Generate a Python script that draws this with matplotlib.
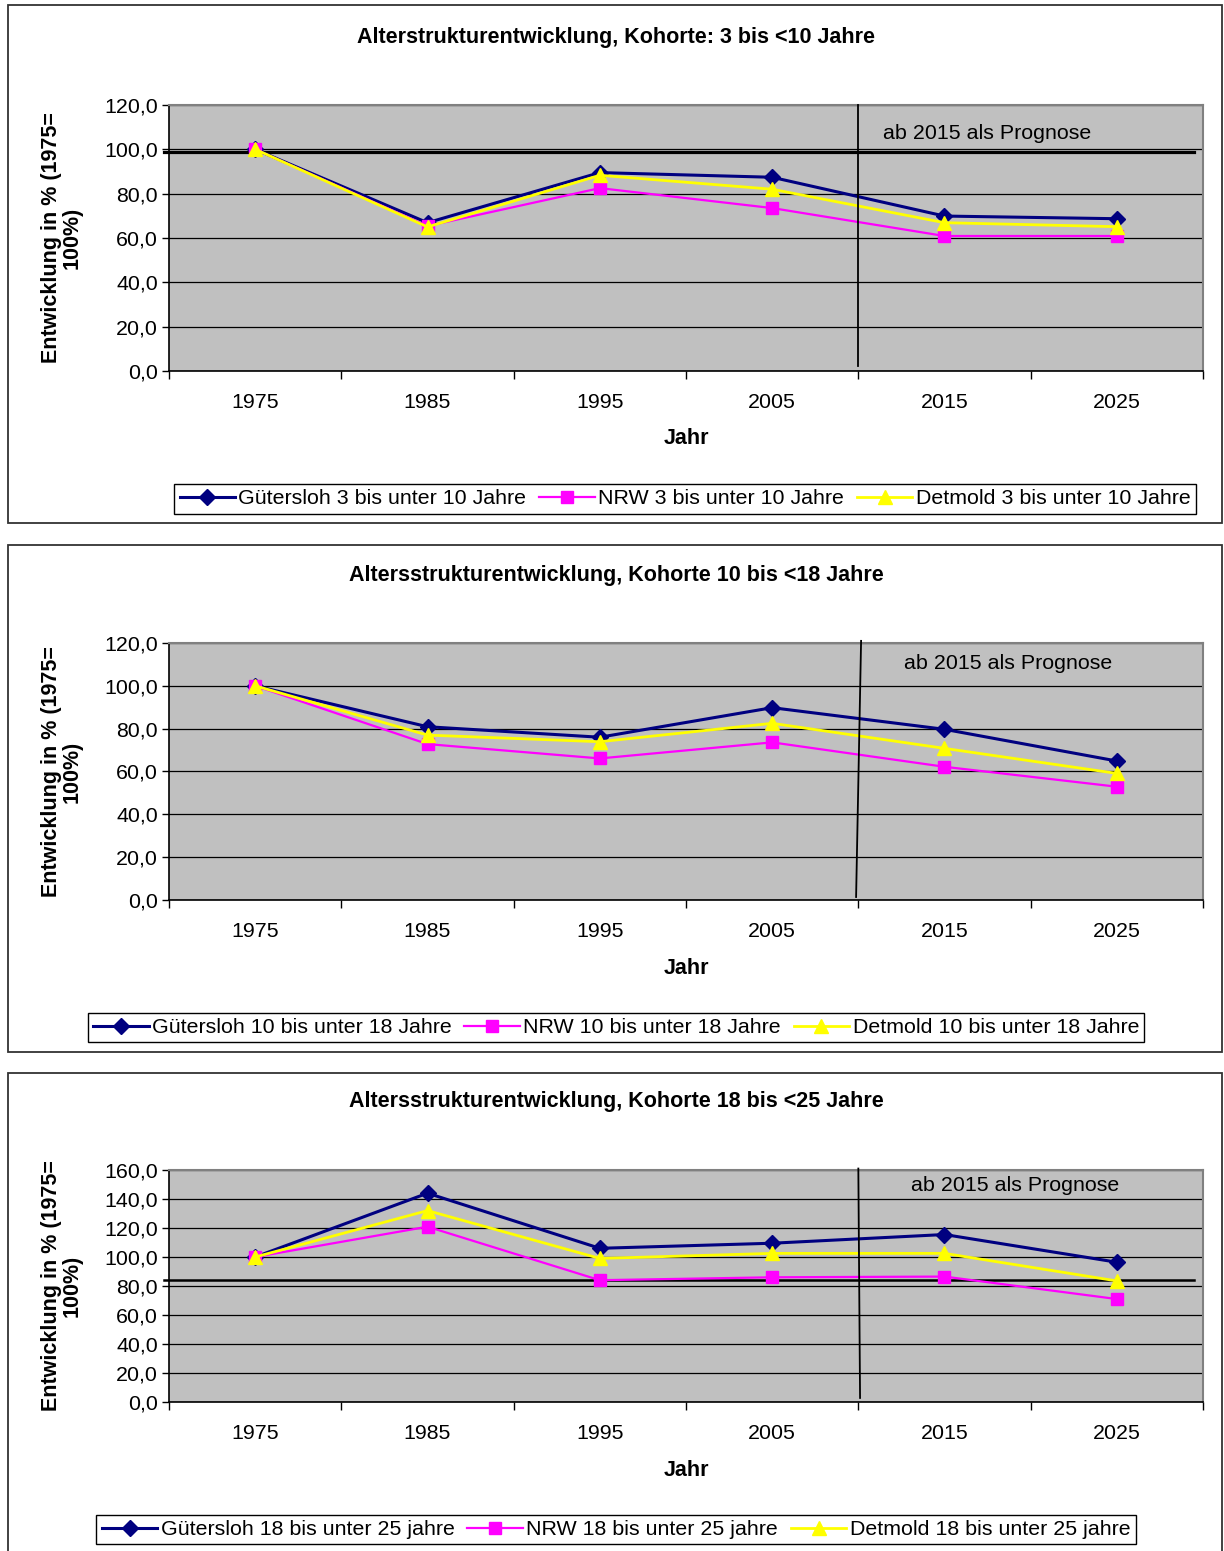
import numpy as np
import matplotlib.pyplot as plt
from matplotlib.patches import Rectangle

plt.rcParams['font.family'] = ['Liberation Sans', 'DejaVu Sans']

# Daten
jahre = ['1975', '1985', '1995', '2005', '2015', '2025']

guet_3_10 = [100, 66.9, 89.5, 87.4, 69.9, 68.7]
nrw_3_10 = [100, 65.4, 82.5, 73.5, 60.9, 60.9]
det_3_10 = [100, 65.0, 88.3, 82.0, 66.9, 65.1]

guet_10_18 = [100, 80.9, 76.0, 89.8, 79.7, 64.9]
nrw_10_18 = [100, 72.8, 66.1, 73.6, 62.2, 52.9]
det_10_18 = [100, 77.0, 73.9, 82.5, 70.8, 59.1]

guet_18_25 = [100, 144.0, 106.0, 109.5, 115.5, 96.4]
nrw_18_25 = [100, 120.9, 84.0, 86.0, 86.5, 71.0]
det_18_25 = [100, 132.0, 99.0, 102.5, 102.5, 83.5]

titel = ['Alterstrukturentwicklung, Kohorte: 3 bis <10 Jahre',
         'Altersstrukturentwicklung, Kohorte 10 bis <18 Jahre',
         'Altersstrukturentwicklung, Kohorte 18 bis <25 Jahre']
legenden = [['Gütersloh 3 bis unter 10 Jahre', 'NRW 3 bis unter 10 Jahre', 'Detmold 3 bis unter 10 Jahre'],
            ['Gütersloh 10 bis unter 18 Jahre', 'NRW 10 bis unter 18 Jahre', 'Detmold 10 bis unter 18 Jahre'],
            ['Gütersloh 18 bis unter 25 jahre', 'NRW 18 bis unter 25 jahre', 'Detmold 18 bis unter 25 jahre']]

W, H = 1224, 1551
fig = plt.figure(figsize=(W / 100, H / 100), dpi=100)

FS = 15.4   # normale Schrift
FB = 15.5   # fette Schrift


def fr(x0, y0, x1, y1):
    # Pixelbox -> Figurkoordinaten
    return [x0 / W, 1 - y1 / H, (x1 - x0) / W, (y1 - y0) / H]


def panel(box, plotbox, daten, ymax, ystep, title, labels, legbox, prog_xy, vline, hline):
    # Rahmen um das ganze Diagramm
    bx0, by0, bx1, by1 = box
    fig.patches.append(Rectangle((bx0 / W, 1 - by1 / H), (bx1 - bx0) / W, (by1 - by0) / H,
                                 transform=fig.transFigure, fill=False, edgecolor='#333333', lw=1.3))

    ax = fig.add_axes(fr(*plotbox))
    ax.set_facecolor('#c0c0c0')
    x = np.arange(len(jahre))
    g, n, d = daten
    h1, = ax.plot(x, g, color='#000080', lw=2.2, marker='D', ms=8, label=labels[0], zorder=3)
    h2, = ax.plot(x, n, color='#ff00ff', lw=1.6, marker='s', ms=9, label=labels[1], zorder=4)
    h3, = ax.plot(x, d, color='#ffff00', lw=2.0, marker='^', ms=10, label=labels[2], zorder=5)

    ax.set_xlim(-0.5, len(jahre) - 0.5)
    ax.set_ylim(0, ymax)
    yt = np.arange(0, ymax + 0.1, ystep)
    ax.set_yticks(yt)
    ax.set_yticklabels([f'{v:.1f}'.replace('.', ',') for v in yt], fontsize=FS)
    ax.set_xticks(x)
    ax.set_xticklabels(jahre, fontsize=FS)
    ax.set_xticks(np.arange(-0.5, len(jahre)), minor=True)
    ax.tick_params(axis='x', which='major', length=0, pad=16)
    ax.tick_params(axis='x', which='minor', length=6, width=1)
    ax.tick_params(axis='y', length=5, width=1, pad=3)
    ax.grid(axis='y', color='black', lw=0.9)
    ax.set_axisbelow(True)
    for s in ['top', 'right']:
        ax.spines[s].set_color('#808080')
        ax.spines[s].set_linewidth(1.5)
    for s in ['left', 'bottom']:
        ax.spines[s].set_color('black')
        ax.spines[s].set_linewidth(1.2)

    # Prognose-Trennlinie
    ax.plot(vline[0], vline[1], color='black', lw=1.3, zorder=6, clip_on=False)
    if hline is not None:
        ax.plot([-0.53, 5.45], [hline[0], hline[0]], color='black', lw=hline[1], zorder=2, clip_on=False)
    ax.text(prog_xy[0], prog_xy[1], 'ab 2015 als Prognose', fontsize=FS, ha='center', va='center')

    px0, py0, px1, py1 = plotbox
    fig.text(616 / W, 1 - (py0 - 68) / H, title, fontsize=FB, fontweight='bold', ha='center', va='center')
    fig.text(686 / W, 1 - (py1 + 68) / H, 'Jahr', fontsize=FB, fontweight='bold', ha='center', va='center')
    fig.text(62 / W, 1 - ((py0 + py1) / 2) / H, 'Entwicklung in % (1975=\n100%)', fontsize=FB,
             fontweight='bold', rotation=90, ha='center', va='center', linespacing=1.0)

    lx0, ly0, lx1, ly1 = legbox
    leg = ax.legend(handles=[h1, h2, h3], loc='center',
                    bbox_to_anchor=((lx0 + lx1) / 2 / W, 1 - (ly0 + ly1) / 2 / H),
                    bbox_transform=fig.transFigure,
                    ncol=3, fontsize=FS, frameon=True, fancybox=False, edgecolor='black',
                    handlelength=2.6, handletextpad=0.15, columnspacing=0.6, borderpad=0.25,
                    borderaxespad=0, framealpha=1)
    leg.get_frame().set_linewidth(1.0)
    return ax


panel((8, 5, 1222, 523), (169, 105, 1203, 371), (guet_3_10, nrw_3_10, det_3_10), 120, 20, titel[0],
      legenden[0], (171, 482, 1199, 516), (4.25, 107),
      ([3.5, 3.5], [120, 2.3]), (98.9, 2.3))
panel((8, 545, 1222, 1052), (169, 643, 1203, 900), (guet_10_18, nrw_10_18, det_10_18), 120, 20, titel[1],
      legenden[1], (84, 1011, 1148, 1044), (4.37, 110.2),
      ([3.516, 3.487], [121, 1.4]), None)
panel((8, 1073, 1222, 1560), (169, 1170, 1203, 1402), (guet_18_25, nrw_18_25, det_18_25), 160, 20, titel[2],
      legenden[2], (93, 1513, 1139, 1546), (4.41, 149),
      ([3.5, 3.51], [161, 2.8]), (84.4, 1.8))

plt.savefig('out.png', dpi=100)
